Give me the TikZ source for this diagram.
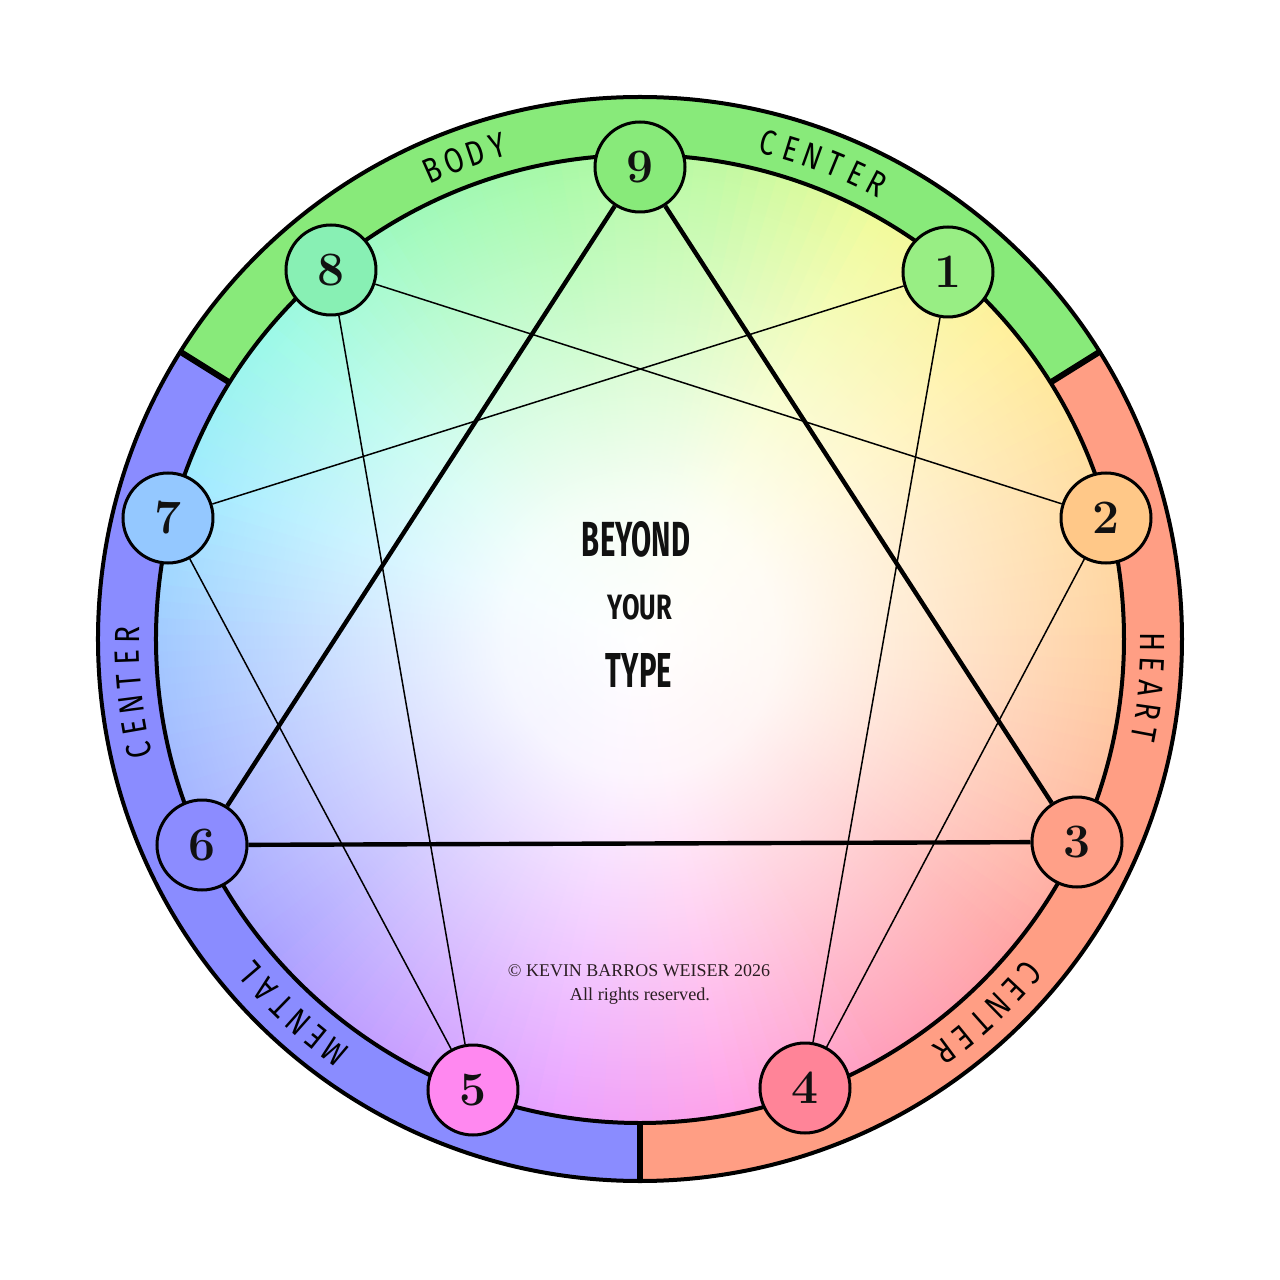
\documentclass[tikz,border=0pt]{standalone}
\usepackage{fontspec}
\usetikzlibrary{fadings}
\newfontfamily\titlefont[FakeStretch=0.65]{Fira Sans}
\newfontfamily\bandfont[FakeStretch=0.8]{Fira Sans}
\newfontfamily\copyfont{Liberation Serif}

\definecolor{bandgreen}{HTML}{88EA7A}
\definecolor{bandsalmon}{HTML}{FF9E84}
\definecolor{bandblue}{HTML}{8A8CFF}
\definecolor{ca0}{HTML}{FFC484}
\definecolor{ca1}{HTML}{FFD484}
\definecolor{ca2}{HTML}{FFEC7C}
\definecolor{ca3}{HTML}{ECFA7C}
\definecolor{ca4}{HTML}{ACF884}
\definecolor{ca5}{HTML}{8AF88A}
\definecolor{ca6}{HTML}{80F8A8}
\definecolor{ca7}{HTML}{7CF8E0}
\definecolor{ca8}{HTML}{80E4FF}
\definecolor{ca9}{HTML}{84B8FF}
\definecolor{ca10}{HTML}{889CFF}
\definecolor{ca11}{HTML}{9084FF}
\definecolor{ca12}{HTML}{B880FF}
\definecolor{ca13}{HTML}{E484FF}
\definecolor{ca14}{HTML}{FF84E0}
\definecolor{ca15}{HTML}{FF80A4}
\definecolor{ca16}{HTML}{FF8888}
\definecolor{ca17}{HTML}{FFA884}
\definecolor{ca18}{HTML}{FFC484}
\definecolor{c9}{HTML}{88EA7A}
\definecolor{c1}{HTML}{98EE84}
\definecolor{c8}{HTML}{88F0B4}
\definecolor{c7}{HTML}{94C8FF}
\definecolor{c2}{HTML}{FFC888}
\definecolor{c3}{HTML}{FFA088}
\definecolor{c4}{HTML}{FF8498}
\definecolor{c5}{HTML}{FF88F0}
\definecolor{c6}{HTML}{8C8CFF}
\definecolor{inkc}{HTML}{111111}
\definecolor{copyc}{HTML}{2A1E22}

\pgfdeclareradialshading{diskfadeshade}{\pgfpoint{0bp}{0bp}}{%
  color(0bp)=(white); color(7bp)=(white!92!black); color(16bp)=(white!58!black);
  color(25bp)=(white!24!black); color(33bp)=(white!6!black); color(40bp)=(black);
  color(50bp)=(black)}
\pgfdeclarefading{diskfade}{\pgfuseshading{diskfadeshade}}

\tikzset{
  ring/.style={draw=black, line width=2pt},
  divider/.style={draw=black, line width=3pt},
  ennpt/.style={circle, draw=black, line width=1.5pt, minimum size=45pt, inner sep=0pt,
    font=\fontsize{24}{24}\selectfont\bfseries, text=inkc},
  thickline/.style={draw=black, line width=2.2pt},
  thinline/.style={draw=black, line width=0.75pt},
  bandtxt/.style={inner sep=0pt, text=black, font=\bandfont\fontsize{17.5}{17.5}\selectfont},
  titletxt/.style={inner sep=0pt, text=inkc},
  copytxt/.style={inner sep=0pt, text=copyc, font=\copyfont}
}

\newcommand\bandword[4]{%
  \foreach \ch [count=\k] in {#4} {
    \pgfmathsetmacro\ang{#2+((#3+1)/2-\k)*2.6}
    \node[bandtxt, rotate=\ang-90] (#1\k) at (\ang:513) {\ch};
  }}

\begin{document}
\begin{tikzpicture}[x=0.5pt, y=0.5pt]
\useasboundingbox (-640,-641) rectangle (640,639);
\fill[white] (-640,-641) rectangle (640,639);

% colour wheel disk
\foreach \i in {0,...,17} {
  \pgfmathtruncatemacro\j{\i+1}
  \foreach \s in {0,...,9} {
    \pgfmathsetmacro\a{\i*20+\s*2}
    \pgfmathtruncatemacro\p{100-\s*10}
    \fill[ca\i!\p!ca\j] (0,0) -- (\a-0.5:486) arc[start angle=\a-0.5, end angle=\a+2.5, radius=486] -- cycle;
  }
}
\fill[white, path fading=diskfade, fit fading=true] (0,0) circle[radius=486];

% band
\fill[bandgreen] (32:542) arc[start angle=32, end angle=148, radius=542] -- (148:484) arc[start angle=148, end angle=32, radius=484] -- cycle;
\fill[bandsalmon] (-90:542) arc[start angle=-90, end angle=32, radius=542] -- (32:484) arc[start angle=32, end angle=-90, radius=484] -- cycle;
\fill[bandblue] (148:542) arc[start angle=148, end angle=270, radius=542] -- (270:484) arc[start angle=270, end angle=148, radius=484] -- cycle;
\draw[ring] (0,0) circle[radius=542];
\draw[ring] (0,0) circle[radius=484];
\draw[divider] (32:484) -- (32:542);
\draw[divider] (148:484) -- (148:542);
\draw[divider] (270:484) -- (270:542);

% band words
\bandword{body}{110}{4}{B,O,D,Y}
\bandword{ctop}{69}{6}{C,E,N,T,E,R}
\bandword{heart}{-5.5}{5}{H,E,A,R,T}
\bandword{cright}{-47}{6}{C,E,N,T,E,R}
\bandword{mental}{-133}{6}{M,E,N,T,A,L}
\bandword{cleft}{186}{6}{C,E,N,T,E,R}

% points
\node[ennpt, fill=c9] (n9) at (0,472) {9};
\node[ennpt, fill=c1] (n1) at (308,367) {1};
\node[ennpt, fill=c8] (n8) at (-309,369) {8};
\node[ennpt, fill=c2] (n2) at (466,121) {2};
\node[ennpt, fill=c7] (n7) at (-472,121) {7};
\node[ennpt, fill=c3] (n3) at (437,-203) {3};
\node[ennpt, fill=c6] (n6) at (-438,-206) {6};
\node[ennpt, fill=c4] (n4) at (165,-449) {4};
\node[ennpt, fill=c5] (n5) at (-167,-451) {5};

% connectors
\draw[thickline] (n9) -- (n3);
\draw[thickline] (n3) -- (n6);
\draw[thickline] (n6) -- (n9);
\draw[thinline] (n1) -- (n4);
\draw[thinline] (n4) -- (n2);
\draw[thinline] (n2) -- (n8);
\draw[thinline] (n8) -- (n5);
\draw[thinline] (n5) -- (n7);
\draw[thinline] (n7) -- (n1);

% centre title
\node[titletxt] (t1) at (-4,100) {\resizebox{54pt}{17.5pt}{\titlefont\bfseries BEYOND}};
\node[titletxt] (t2) at (0,32) {\resizebox{32pt}{12.5pt}{\titlefont\bfseries YOUR}};
\node[titletxt] (t3) at (-1,-31) {\resizebox{33pt}{17pt}{\titlefont\bfseries TYPE}};

% copyright
\node[copytxt] (cp1) at (-1,-332) {\resizebox{131pt}{!}{\textcopyright\ KEVIN BARROS WEISER 2026}};
\node[copytxt] (cp2) at (0,-357) {\resizebox{70pt}{!}{All rights reserved.}};
\end{tikzpicture}
\end{document}
